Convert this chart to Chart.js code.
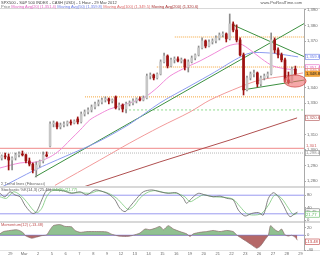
<!DOCTYPE html>
<html>
<head>
<meta charset="utf-8">
<script src="https://cdn.jsdelivr.net/npm/chart.js@4"></script>
<style>
body{margin:0;background:#fff;width:320px;height:256px;overflow:hidden;position:relative;font-family:"Liberation Sans",Arial,sans-serif}
canvas{position:absolute;left:0;z-index:2}
.t{position:absolute;font-size:4px;line-height:4px;white-space:nowrap;z-index:3}
.sep{position:absolute;left:0;width:320px;background:#d8d8d8;z-index:1}
</style>
</head>
<body>
<div class="t" style="left:1px;top:1px;color:#444">SPX500 - S&amp;P 500 INDEX - CASH (USD) - 1 Hour - 29 Mar 2012</div>
<div class="t" style="right:18px;top:1px;color:#555">www.ProRealTime.com</div>
<div class="t" style="left:1px;top:5px"><span style="color:#777">Price</span> <span style="color:#e060c0">Moving Avg(20) (1,351.4)</span> <span style="color:#6a7ce8">Moving Avg(50) (1,359.8)</span> <span style="color:#e06a6a">Moving Avg(100) (1,349.5)</span> <span style="color:#a83232">Moving Avg(200) (1,320.6)</span></div>
<div class="t" style="left:1px;top:182px;color:#666">&Sigma; Trend lines (Fibonacci)</div>
<div class="t" style="left:1px;top:188px"><span style="color:#555">Stochastic %K(14,3) (25.45)</span> <span style="color:#5cb85c">%D(5) (21.77)</span></div>
<div class="t" style="left:1px;top:223px;color:#c05050">Momentum(12) (-13.48)</div>
<div class="sep" style="top:8px;height:1px"></div>
<div class="sep" style="top:186px;height:1.5px"></div>
<div class="sep" style="top:221px;height:1.5px"></div>
<div class="sep" style="top:250px;height:1px;background:#e4e4e4"></div>

<canvas id="main" width="320" height="190" style="top:0"></canvas>
<canvas id="stoch" width="320" height="42" style="top:183px"></canvas>
<canvas id="mom" width="320" height="38" style="top:218px"></canvas>

<script>
// jours affichés sur l'axe du bas (un jour = 4 barres)
const dayLabels = ["29", "Mar", "2", "5", "6", "7", "8", "9", "12", "13", "14", "15", "16", "19", "20", "21", "22", "23", "26", "27", "28", "29"];
const priceTicks = [1280, 1290, 1300, 1310, 1320, 1330, 1340, 1350, 1360, 1370, 1380, 1390];
const stochTicks = [0, 20, 40, 60, 80, 100];
const momTicks = [-40, -20, 0, 20];

// bougies (ouverture, plus haut, plus bas, clôture)
const open = [
  1294.8, 1296.1, 1295.5, 1293.5, 1294.8, 1296.8, 1297.4, 1296.8, 1292.9, 1290.9,
  1287.1, 1290.3, 1292.9, 1296.8, 1302.5, 1316.7, 1317.3, 1314.8, 1316.0, 1316.7,
  1318.0, 1317.3, 1319.9, 1318.0, 1323.1, 1324.4, 1325.7, 1327.6, 1329.6, 1330.8,
  1332.1, 1332.8, 1331.5, 1334.1, 1327.0, 1328.9, 1326.3, 1329.6, 1330.2, 1331.5,
  1332.8, 1332.1, 1333.4, 1347.5, 1348.2, 1346.3, 1348.8, 1356.6, 1360.4, 1354.0,
  1357.9, 1358.5, 1357.2, 1357.9, 1353.3, 1356.6, 1359.1, 1361.1, 1365.6, 1370.1,
  1366.8, 1369.4, 1370.1, 1372.0, 1373.9, 1374.6, 1371.4, 1381.0, 1377.1, 1370.7,
  1361.1, 1338.6, 1346.3, 1348.8, 1349.5, 1342.4, 1346.3, 1347.5, 1348.8, 1370.7,
  1364.3, 1361.1, 1357.9, 1345.0, 1343.7, 1352.0
];
const high = [
  1296.8, 1298.0, 1297.4, 1295.5, 1298.0, 1298.7, 1299.3, 1297.4, 1294.8, 1291.6,
  1292.3, 1293.5, 1298.7, 1298.7, 1318.0, 1318.6, 1318.0, 1317.3, 1318.0, 1318.6,
  1319.3, 1319.3, 1321.2, 1324.4, 1325.7, 1327.0, 1328.9, 1330.8, 1332.1, 1333.4,
  1334.1, 1333.4, 1332.8, 1334.7, 1330.2, 1329.6, 1330.8, 1331.5, 1332.8, 1333.4,
  1334.1, 1334.7, 1348.8, 1349.5, 1348.8, 1349.5, 1357.9, 1362.3, 1361.1, 1359.1,
  1359.8, 1359.8, 1359.1, 1358.5, 1357.9, 1360.4, 1361.7, 1366.8, 1372.0, 1370.7,
  1370.7, 1371.4, 1373.3, 1375.2, 1375.9, 1375.2, 1387.4, 1382.3, 1380.4, 1372.0,
  1362.3, 1347.5, 1350.1, 1351.4, 1350.1, 1347.5, 1348.8, 1350.1, 1375.2, 1372.0,
  1365.6, 1362.3, 1359.1, 1350.1, 1353.3, 1353.9
];
const low = [
  1293.5, 1294.2, 1287.1, 1287.1, 1293.5, 1295.5, 1296.1, 1291.6, 1289.7, 1285.2,
  1282.6, 1289.0, 1291.6, 1295.5, 1302.0, 1314.8, 1313.5, 1313.5, 1314.8, 1315.4,
  1316.0, 1316.7, 1316.7, 1317.3, 1321.8, 1323.1, 1324.4, 1326.3, 1328.3, 1329.6,
  1330.8, 1329.6, 1330.2, 1326.3, 1325.7, 1324.4, 1323.8, 1328.3, 1328.9, 1330.2,
  1331.5, 1331.5, 1332.8, 1345.6, 1345.0, 1345.6, 1348.2, 1355.9, 1352.7, 1353.3,
  1355.9, 1356.6, 1355.9, 1351.4, 1350.1, 1355.9, 1357.9, 1360.4, 1364.9, 1365.6,
  1366.2, 1368.1, 1368.8, 1370.7, 1372.6, 1369.4, 1370.7, 1375.9, 1369.4, 1360.4,
  1335.3, 1337.9, 1345.0, 1346.9, 1340.5, 1341.1, 1345.0, 1346.3, 1348.2, 1362.3,
  1359.1, 1356.6, 1343.7, 1342.4, 1343.0, 1348.2
];
const close = [
  1296.1, 1295.5, 1293.5, 1294.8, 1296.8, 1297.4, 1296.8, 1292.9, 1290.9, 1287.1,
  1290.3, 1292.9, 1296.8, 1296.1, 1316.7, 1317.3, 1314.8, 1316.0, 1316.7, 1318.0,
  1317.3, 1318.6, 1318.0, 1323.1, 1324.4, 1325.7, 1327.6, 1329.6, 1330.8, 1332.1,
  1332.8, 1331.5, 1332.1, 1327.0, 1328.9, 1326.3, 1329.6, 1330.2, 1331.5, 1332.8,
  1332.1, 1333.4, 1347.5, 1348.2, 1346.3, 1348.8, 1356.6, 1360.4, 1354.0, 1357.9,
  1358.5, 1357.2, 1357.9, 1353.3, 1356.6, 1359.1, 1361.1, 1365.6, 1370.1, 1366.8,
  1369.4, 1370.1, 1372.0, 1373.9, 1374.6, 1371.4, 1381.0, 1377.1, 1370.7, 1361.1,
  1338.6, 1346.3, 1348.8, 1349.5, 1342.4, 1346.3, 1347.5, 1348.8, 1370.7, 1364.3,
  1361.1, 1357.9, 1345.0, 1343.7, 1352.0, 1348.8
];

// moyennes mobiles (position en barres, valeur)
const ma20Pos = [0, 5.8, 10.7, 14.5, 17.4, 20.3, 23.2, 26.0, 28.9, 31.8, 37.6, 42, 45.4, 49.2, 54.1, 57.9, 62.2, 66, 69.5, 72.4, 75.8, 79, 83.1, 86];
const ma20Val = [1288.4, 1291.6, 1292.3, 1295.5, 1300.0, 1306.4, 1312.8, 1319.3, 1323.1, 1326.3, 1330.2, 1334.1, 1339.8, 1347.5, 1353.3, 1357.2, 1362.3, 1366.8, 1368.1, 1364.3, 1358.5, 1354.0, 1352.0, 1351.4];
const ma50Pos = [0, 10.1, 14.5, 23.2, 28.9, 37.6, 46.3, 55, 62.2, 68, 72.4, 78.1, 82.5, 86.3];
const ma50Val = [1275.5, 1287.1, 1291.6, 1300.0, 1305.8, 1316.7, 1330.2, 1341.1, 1350.1, 1357.9, 1362.3, 1362.3, 1361.1, 1359.8];
const ma100Pos = [15.9, 28.9, 37.6, 46.3, 55, 60.8, 69.5, 75.3, 82.5, 87.7];
const ma100Val = [1277.2, 1293.5, 1304.5, 1314.8, 1324.4, 1332.1, 1340.5, 1345.0, 1347.5, 1349.5];
const ma200Pos = [24.6, 46.3, 66.6, 86];
const ma200Val = [1276.5, 1292.3, 1306.4, 1320.6];

// lignes de tendance et niveaux horizontaux
const trendUp = [[10.1, 1282.6], [88, 1381.2]];
const trendDown = [[67.4, 1380.4], [88, 1360.0]];
const trendLow = [[70.3, 1338.6], [88, 1344.9]];
const orangeLevels = [[24.6, 1334.1], [45.4, 1353.3], [50.6, 1372.6]];
const greenLevel = [36.2, 1325.7];
const redLevel = 1301.0;
const grayLevel = 1298.0;
const zone = { x: 85.4, y: 1344.3, rx: 3.2, ry: 3.9 };

// stochastique
const stochKPos = [0, 1.4, 2.9, 4.3, 5.8, 7.2, 8.7, 9.6, 10.6, 12.1, 13.5, 15.4, 18.3, 20.7, 23.2, 25.1, 27.5, 29.9, 31.8, 33.3, 34.7, 36.2, 37.6, 39.6, 41.5, 43.9, 46.3, 48.7, 51.1, 53.1, 54.0, 55.5, 57.4, 59.3, 61.7, 63.7, 65.6, 67.5, 69.0, 70.9, 72.8, 74.8, 76.2, 77.7, 79.1, 80.6, 82.0, 83.9, 85.4, 86.1];
const stochKVal = [86, 75, 91, 81, 75, 48, 27, 21, 27, 65, 95, 97, 94, 86, 91, 81, 97, 91, 81, 65, 38, 27, 43, 70, 91, 97, 91, 86, 88, 70, 54, 70, 86, 81, 75, 77, 70, 65, 32, 13, 21, 24, 16, 70, 88, 75, 48, 11, 21, 25.45];
const stochDPos = [0, 1.9, 3.9, 5.8, 7.7, 9.6, 10.8, 12.1, 13.5, 15.0, 17.8, 20.7, 23.6, 26, 28.5, 31.4, 33.8, 35.7, 37.1, 38.6, 40.5, 42.5, 44.9, 47.8, 51.1, 53.5, 55.0, 56.9, 58.9, 61.7, 65.1, 67.5, 69.5, 71.4, 73.3, 75.7, 77.7, 79.6, 81.5, 83.5, 84.9, 86.1];
const stochDVal = [75, 70, 91, 81, 59, 32, 24, 38, 75, 94, 97, 88, 88, 86, 94, 86, 70, 48, 34, 43, 70, 88, 95, 88, 86, 75, 59, 70, 81, 75, 73, 67, 43, 21, 16, 21, 48, 81, 70, 38, 18, 21.77];

// momentum
const momPos = [0, 1, 2.9, 4.8, 5.8, 6.8, 7.2, 8.2, 9.2, 10.6, 12.1, 13.5, 14.5, 15.4, 16.9, 17.8, 18.8, 20.7, 21.7, 23.2, 25.1, 28, 30.9, 32.3, 33.8, 35.2, 37.1, 38.6, 40.5, 42, 43.4, 44.9, 46.3, 47.3, 48.7, 50.2, 52.1, 54, 55, 56, 57.9, 59.8, 61.7, 63.7, 65.6, 67.5, 68.5, 69.9, 71.4, 72.8, 74.3, 75.3, 76.7, 77.7, 78.3, 79.6, 80.6, 81.5, 82.5, 83.5, 84.4, 85.4, 86.1];
const momVal = [4, 10, 13, 15, 12, 6, 0, -5, -8, -5, -1, 1, 15, 26, 29, 28, 24, 23, 13, 8, 10, 10, 9, 3, -1, -3, -3, 0, 6, 17, 15, 19, 24, 15, 26, 17, 10, 4, -3, 4, 8, 10, 13, 10, 13, 10, 1, -8, -17, -26, -35, -30, -12, 1, 26, 15, 10, 17, 1, -2, 0, -5, -13.48];

const X_MIN = 0, X_MAX = 88;
Chart.defaults.font.family = "'Liberation Sans', Arial, sans-serif";
Chart.defaults.animation = false;
Chart.defaults.plugins.legend.display = false;
Chart.defaults.plugins.tooltip.enabled = false;

function pts(xs, ys) {
    return xs.map((x, i) => ({ x: x, y: ys[i] }));
}
function line(data, color, extra) {
    return Object.assign({
        type: "line", data: data, borderColor: color, borderWidth: 1,
        pointRadius: 0, fill: false, tension: 0.3
    }, extra || {});
}
function fmt(v, d) {
    return v.toLocaleString("en-US", { minimumFractionDigits: d, maximumFractionDigits: d });
}
function yAxis(min, max, ticks, labelFn) {
    return {
        position: "right", min: min, max: max,
        afterFit: (s) => { s.width = 16; },
        afterBuildTicks: (s) => { s.ticks = ticks.map((v) => ({ value: v })); },
        grid: { drawOnChartArea: false, tickLength: 2, color: "#aaa" },
        border: { color: "#aaa" },
        ticks: { font: { size: 4.2 }, color: "#666", padding: 1, callback: labelFn }
    };
}
function hiddenX() {
    return { type: "linear", min: X_MIN, max: X_MAX, offset: false, display: false };
}

// petites étiquettes de valeur sur l'axe de droite
function boxPlugin(boxes) {
    return {
        id: "boxes",
        afterDraw(chart) {
            const ctx = chart.ctx, ys = chart.scales.y;
            ctx.save();
            ctx.font = "4.2px 'Liberation Sans', Arial";
            ctx.textBaseline = "middle";
            boxes.forEach((b) => {
                const y = ys.getPixelForValue(b.v);
                if (b.plain) {
                    ctx.fillStyle = b.color;
                    ctx.fillText(b.text, 306, y - 2.5);
                    return;
                }
                ctx.fillStyle = b.fill || "#fff";
                ctx.fillRect(305, y - 2.7, 15, 5.4);
                ctx.strokeStyle = b.color;
                ctx.lineWidth = 0.6;
                ctx.strokeRect(305.3, y - 2.7, 14.4, 5.4);
                ctx.fillStyle = b.textColor || b.color;
                ctx.fillText(b.text, 306, y + 0.2);
            });
            ctx.restore();
        }
    };
}

const zonePlugin = {
    id: "zone",
    afterDatasetsDraw(chart) {
        const ctx = chart.ctx, xs = chart.scales.x, ys = chart.scales.y;
        const cx = xs.getPixelForValue(zone.x), cy = ys.getPixelForValue(zone.y);
        const rx = xs.getPixelForValue(zone.x + zone.rx) - cx;
        const ry = cy - ys.getPixelForValue(zone.y + zone.ry);
        ctx.save();
        ctx.beginPath();
        ctx.ellipse(cx, cy, rx, ry, 0, 0, Math.PI * 2);
        ctx.fillStyle = "rgba(238,110,110,0.6)";
        ctx.fill();
        ctx.strokeStyle = "#d04848";
        ctx.lineWidth = 0.8;
        ctx.stroke();
        ctx.restore();
    }
};

// graphique principal
const up = close.map((c, i) => c >= open[i]);
const wicks = open.map((o, i) => ({ x: i + 0.5, y: [low[i], high[i]] }));
const bodies = open.map((o, i) => ({ x: i + 0.5, y: [Math.min(o, close[i]), Math.max(o, close[i])] }));
const last = close.length - 1;
const dotted = { borderDash: [1, 1], tension: 0 };

const levelSets = orangeLevels.map((l) =>
    line([{ x: l[0], y: l[1] }, { x: X_MAX, y: l[1] }], "#f5a53a", dotted));

new Chart(document.getElementById("main"), {
    type: "bar",
    data: {
        datasets: [
            { data: bodies, grouped: false, barThickness: 2, minBarLength: 1,
              backgroundColor: up.map((u) => u ? "#c6c6c6" : "#9e1212"), borderWidth: 0 },
            { data: wicks, grouped: false, barThickness: 1,
              backgroundColor: up.map((u) => u ? "#8c8c8c" : "#9e1212") },
            line(pts(ma20Pos, ma20Val), "#f08ad8"),
            line(pts(ma50Pos, ma50Val), "#8d9cf0"),
            line(pts(ma100Pos, ma100Val), "#f29a9a"),
            line(pts(ma200Pos, ma200Val), "#b05050", { tension: 0 }),
            line(pts(trendUp.map((p) => p[0]), trendUp.map((p) => p[1])), "#3c9040", { tension: 0 }),
            line(pts(trendDown.map((p) => p[0]), trendDown.map((p) => p[1])), "#3c9040", { tension: 0 }),
            line(pts(trendLow.map((p) => p[0]), trendLow.map((p) => p[1])), "#3c9040", { tension: 0 }),
            ...levelSets,
            line([{ x: greenLevel[0], y: greenLevel[1] }, { x: X_MAX, y: greenLevel[1] }], "#8fdc8f", { borderDash: [2, 2], tension: 0 }),
            line([{ x: X_MIN, y: redLevel }, { x: X_MAX, y: redLevel }], "#f2a0a0", { borderWidth: 1.2, tension: 0 }),
            line([{ x: X_MIN, y: grayLevel }, { x: X_MAX, y: grayLevel }], "#b8b8b8", dotted)
        ]
    },
    options: {
        responsive: false,
        layout: { padding: { top: 9, bottom: 4, left: 0, right: 0 } },
        scales: {
            x: hiddenX(),
            y: yAxis(1276.8, 1390.6, priceTicks, (v) => fmt(v, 0))
        }
    },
    plugins: [zonePlugin, boxPlugin([
        { v: ma50Val[ma50Val.length - 1], text: fmt(ma50Val[ma50Val.length - 1], 1), color: "#6a7ce8" },
        { v: ma20Val[ma20Val.length - 1] + 1.6, text: fmt(ma20Val[ma20Val.length - 1], 1), color: "#e060c0" },
        { v: ma100Val[ma100Val.length - 1] + 1.2, text: fmt(ma100Val[ma100Val.length - 1], 1), color: "#e06a6a" },
        { v: close[last] + 0.2, text: fmt(close[last], 1), color: "#e8962a", fill: "#f5a53a", textColor: "#222" },
        { v: ma200Val[ma200Val.length - 1], text: fmt(ma200Val[ma200Val.length - 1], 1), color: "#b05050" },
        { v: redLevel, text: fmt(redLevel, 0), color: "#d06060", plain: true },
        { v: grayLevel, text: fmt(grayLevel, 1), color: "#888" }
    ])]
});

// stochastique
new Chart(document.getElementById("stoch"), {
    type: "line",
    data: {
        datasets: [
            line(pts(stochKPos, stochKVal), "#666", { borderWidth: 0.8 }),
            line(pts(stochDPos, stochDVal), "#78c878", { borderWidth: 0.8 }),
            line([{ x: X_MIN, y: 80 }, { x: X_MAX, y: 80 }], "#9a9af0", { tension: 0 }),
            line([{ x: X_MIN, y: 20 }, { x: X_MAX, y: 20 }], "#9a9af0", { tension: 0 })
        ]
    },
    options: {
        responsive: false,
        layout: { padding: { top: 4, bottom: 4 } },
        scales: {
            x: hiddenX(),
            y: yAxis(-3.2, 106.5, stochTicks, (v) => v)
        }
    },
    plugins: [boxPlugin([
        { v: stochKVal[stochKVal.length - 1] + 2, text: fmt(stochKVal[stochKVal.length - 1], 2), color: "#777" },
        { v: stochDVal[stochDVal.length - 1] - 4, text: fmt(stochDVal[stochDVal.length - 1], 2), color: "#5cb85c" }
    ])]
});

// momentum + axe des dates
new Chart(document.getElementById("mom"), {
    type: "line",
    data: {
        datasets: [
            line(pts(momPos, momVal), "#8a6a6a", {
                borderWidth: 0.7, tension: 0.2,
                fill: { target: { value: 0 }, above: "rgba(70,150,70,0.6)", below: "rgba(150,40,40,0.7)" }
            }),
            line([{ x: X_MIN, y: 0 }, { x: X_MAX, y: 0 }], "#8a8ae8", { tension: 0 })
        ]
    },
    options: {
        responsive: false,
        layout: { padding: { top: 4, bottom: 0 } },
        scales: {
            x: {
                type: "linear", min: X_MIN, max: X_MAX, offset: false,
                afterFit: (s) => { s.height = 6; },
                afterBuildTicks: (s) => { s.ticks = dayLabels.map((d, k) => ({ value: 3 + 4 * k })); },
                grid: { display: false, drawTicks: false },
                border: { display: false },
                ticks: {
                    font: { size: 4 }, color: "#666", padding: 1, maxRotation: 0, autoSkip: false,
                    callback: (v, i) => dayLabels[i]
                }
            },
            y: yAxis(-40, 36, momTicks, (v) => v)
        }
    },
    plugins: [boxPlugin([
        { v: momVal[momVal.length - 1] - 4, text: fmt(momVal[momVal.length - 1], 2), color: "#c04040" }
    ])]
});
</script>
</body>
</html>
